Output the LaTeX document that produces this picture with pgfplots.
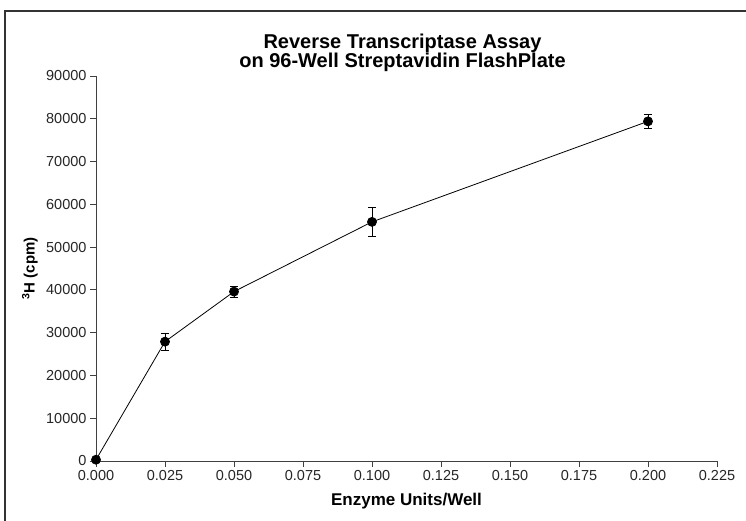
\documentclass[border=0pt]{standalone}
\usepackage{fontspec}
\setmainfont{Liberation Sans}
\usepackage{pgfplots}
\pgfplotsset{compat=1.18}
\begin{document}
\begin{tikzpicture}[x=1pt,y=1pt]
\path[use as bounding box] (0,0) rectangle (746,521);
\draw[line width=2pt, color=black!80] (5,-2) -- (5,510) -- (748,510);
\begin{axis}[
  at={(96pt,60pt)}, anchor=south west,
  scale only axis, width=621pt, height=385pt,
  xmin=0, xmax=0.225, ymin=0, ymax=90000,
  axis x line=bottom, axis y line=left,
  axis line style={-, line width=0.8pt, black!75},
  xtick={0,0.025,0.05,0.075,0.1,0.125,0.15,0.175,0.2,0.225},
  ytick={0,10000,20000,30000,40000,50000,60000,70000,80000,90000},
  tick align=outside, major tick length=6pt,
  tick style={black!75, line width=0.8pt},
  scaled ticks=false,
  /pgf/number format/assume math mode=true,
  tick label style={font=\fontsize{14.5}{14.5}\selectfont, black!85},
  xticklabel style={yshift=0pt},
  yticklabel style={xshift=0pt},
  x tick label style={/pgf/number format/.cd, fixed, fixed zerofill, precision=3, /tikz/.cd},
  y tick label style={/pgf/number format/.cd, fixed, 1000 sep={}, /tikz/.cd},
  xlabel={Enzyme Units/Well},
  ylabel={\textsuperscript{3}H (cpm)},
  every axis x label/.style={at={(axis description cs:0.5,0)}, anchor=center, yshift=-40pt, font=\fontsize{17}{17}\selectfont\bfseries},
  every axis y label/.style={at={(axis description cs:-0.1063,0.5)}, anchor=center, rotate=90, font=\fontsize{15}{15}\selectfont\bfseries},
  title={Reverse Transcriptase Assay\\on 96-Well Streptavidin FlashPlate},
  title style={at={(axis description cs:0.5,1)}, anchor=center, yshift=17pt, xshift=-4pt, align=center, font=\fontsize{20}{19}\selectfont\bfseries},
  clip=false,
]
\addplot[black, line width=0.8pt, mark=*, mark size=4.5pt,
  error bars/.cd, y dir=both, y explicit,
  error bar style={line width=0.8pt, black},
  error mark options={rotate=90, mark size=4pt, line width=0.8pt, black}]
  table[x=x, y=y, y error=ey] {
x y ey
0 300 200
0.025 27900 1950
0.05 39600 1300
0.1 55900 3300
0.2 79400 1600
};
\end{axis}
\end{tikzpicture}
\end{document}
